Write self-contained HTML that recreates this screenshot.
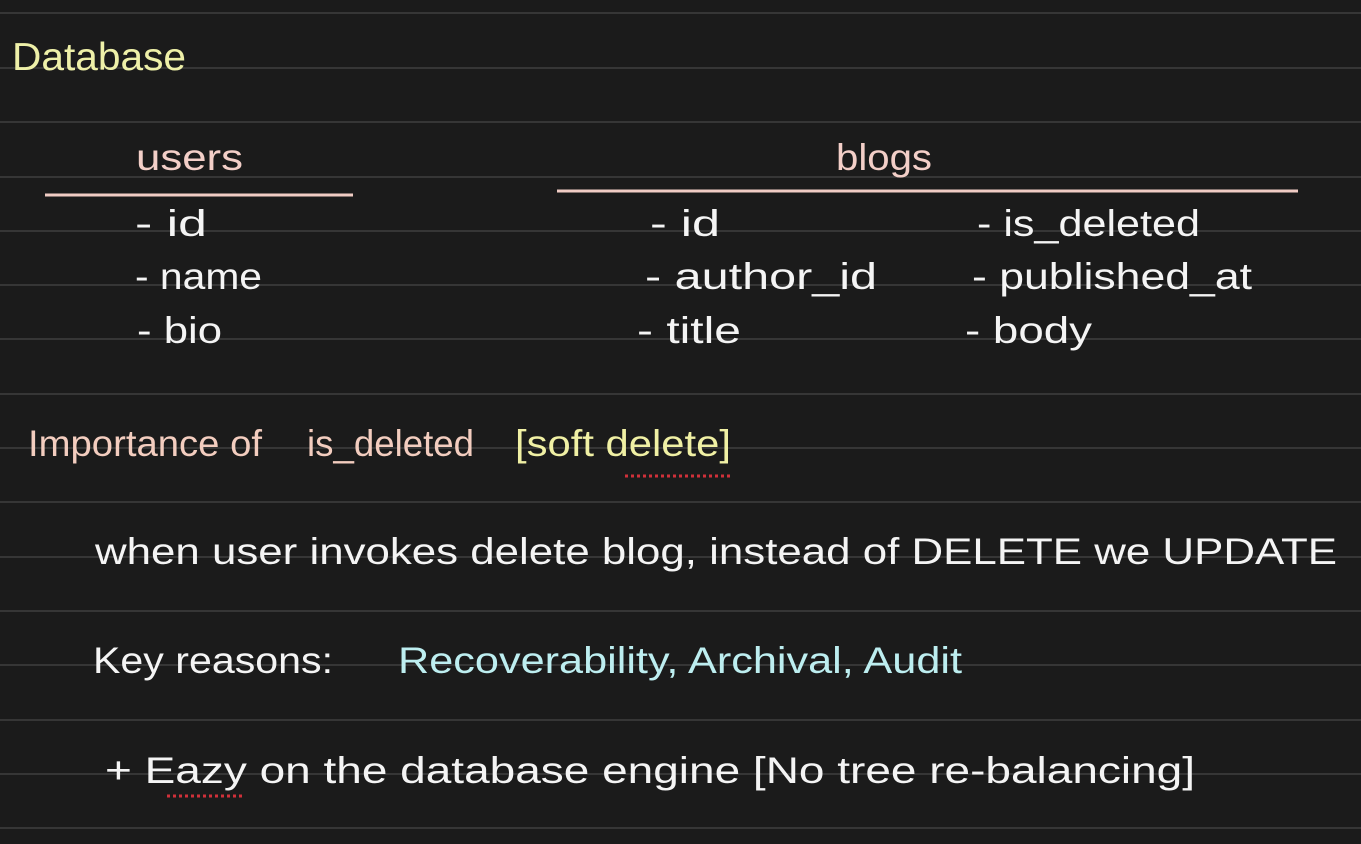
<!DOCTYPE html>
<html><head><meta charset="utf-8"><style>
html,body{margin:0;padding:0;background:#1b1b1b;}
svg{display:block}
text{font-family:"Liberation Sans",sans-serif;font-size:37px;fill:#f4f4f4;}
</style></head><body>
<svg width="1361" height="844" viewBox="0 0 1361 844" xmlns="http://www.w3.org/2000/svg">
<rect width="1361" height="844" fill="#1b1b1b"/>
<g stroke="#363636" stroke-width="2">
<line x1="0" y1="13" x2="1361" y2="13"/><line x1="0" y1="68" x2="1361" y2="68"/>
<line x1="0" y1="122" x2="1361" y2="122"/><line x1="0" y1="177" x2="1361" y2="177"/>
<line x1="0" y1="231" x2="1361" y2="231"/><line x1="0" y1="285" x2="1361" y2="285"/>
<line x1="0" y1="339" x2="1361" y2="339"/><line x1="0" y1="394" x2="1361" y2="394"/>
<line x1="0" y1="448" x2="1361" y2="448"/><line x1="0" y1="502" x2="1361" y2="502"/>
<line x1="0" y1="557" x2="1361" y2="557"/><line x1="0" y1="611" x2="1361" y2="611"/>
<line x1="0" y1="665" x2="1361" y2="665"/><line x1="0" y1="720" x2="1361" y2="720"/>
<line x1="0" y1="774" x2="1361" y2="774"/><line x1="0" y1="828" x2="1361" y2="828"/>
</g>
<text x="12" y="70" textLength="174" lengthAdjust="spacingAndGlyphs" style="fill:#eef0a8;font-size:39px">Database</text>
<text x="136" y="170" textLength="107" lengthAdjust="spacingAndGlyphs" style="fill:#f3cfc8">users</text>
<text x="836" y="170" textLength="96" lengthAdjust="spacingAndGlyphs" style="fill:#f3cfc8">blogs</text>
<line x1="45" y1="195" x2="353" y2="195" stroke="#f0ccc4" stroke-width="3"/>
<line x1="557" y1="191" x2="1298" y2="191" stroke="#f0ccc4" stroke-width="3"/>
<text x="135" y="236" textLength="72" lengthAdjust="spacingAndGlyphs">- id</text>
<text x="135" y="289" textLength="127" lengthAdjust="spacingAndGlyphs">- name</text>
<text x="137" y="343" textLength="85" lengthAdjust="spacingAndGlyphs">- bio</text>
<text x="650" y="236" textLength="70" lengthAdjust="spacingAndGlyphs">- id</text>
<text x="645" y="289" textLength="232" lengthAdjust="spacingAndGlyphs">- author_id</text>
<text x="637" y="343" textLength="104" lengthAdjust="spacingAndGlyphs">- title</text>
<text x="977" y="236" textLength="223" lengthAdjust="spacingAndGlyphs">- is_deleted</text>
<text x="972" y="289" textLength="280" lengthAdjust="spacingAndGlyphs">- published_at</text>
<text x="965" y="343" textLength="127" lengthAdjust="spacingAndGlyphs">- body</text>
<text x="28" y="456" textLength="234" lengthAdjust="spacingAndGlyphs" style="fill:#f3cdbf">Importance of</text>
<text x="307" y="456" textLength="167" lengthAdjust="spacingAndGlyphs" style="fill:#f3cdbf">is_deleted</text>
<text x="515" y="456" textLength="216" lengthAdjust="spacingAndGlyphs" style="fill:#f0f0a4">[soft delete]</text>
<line x1="625" y1="476" x2="731" y2="476" stroke="#d0303a" stroke-width="3" stroke-dasharray="3 3"/>
<text x="95" y="564" textLength="1242" lengthAdjust="spacingAndGlyphs">when user invokes delete blog, instead of DELETE we UPDATE</text>
<text x="93" y="673" textLength="240" lengthAdjust="spacingAndGlyphs">Key reasons:</text>
<text x="398" y="673" textLength="564" lengthAdjust="spacingAndGlyphs" style="fill:#bdeef0">Recoverability, Archival, Audit</text>
<text x="105" y="783" textLength="1090" lengthAdjust="spacingAndGlyphs">+ Eazy on the database engine [No tree re-balancing]</text>
<line x1="167" y1="796" x2="245" y2="796" stroke="#d0303a" stroke-width="3" stroke-dasharray="3 3"/>
</svg>
</body></html>
